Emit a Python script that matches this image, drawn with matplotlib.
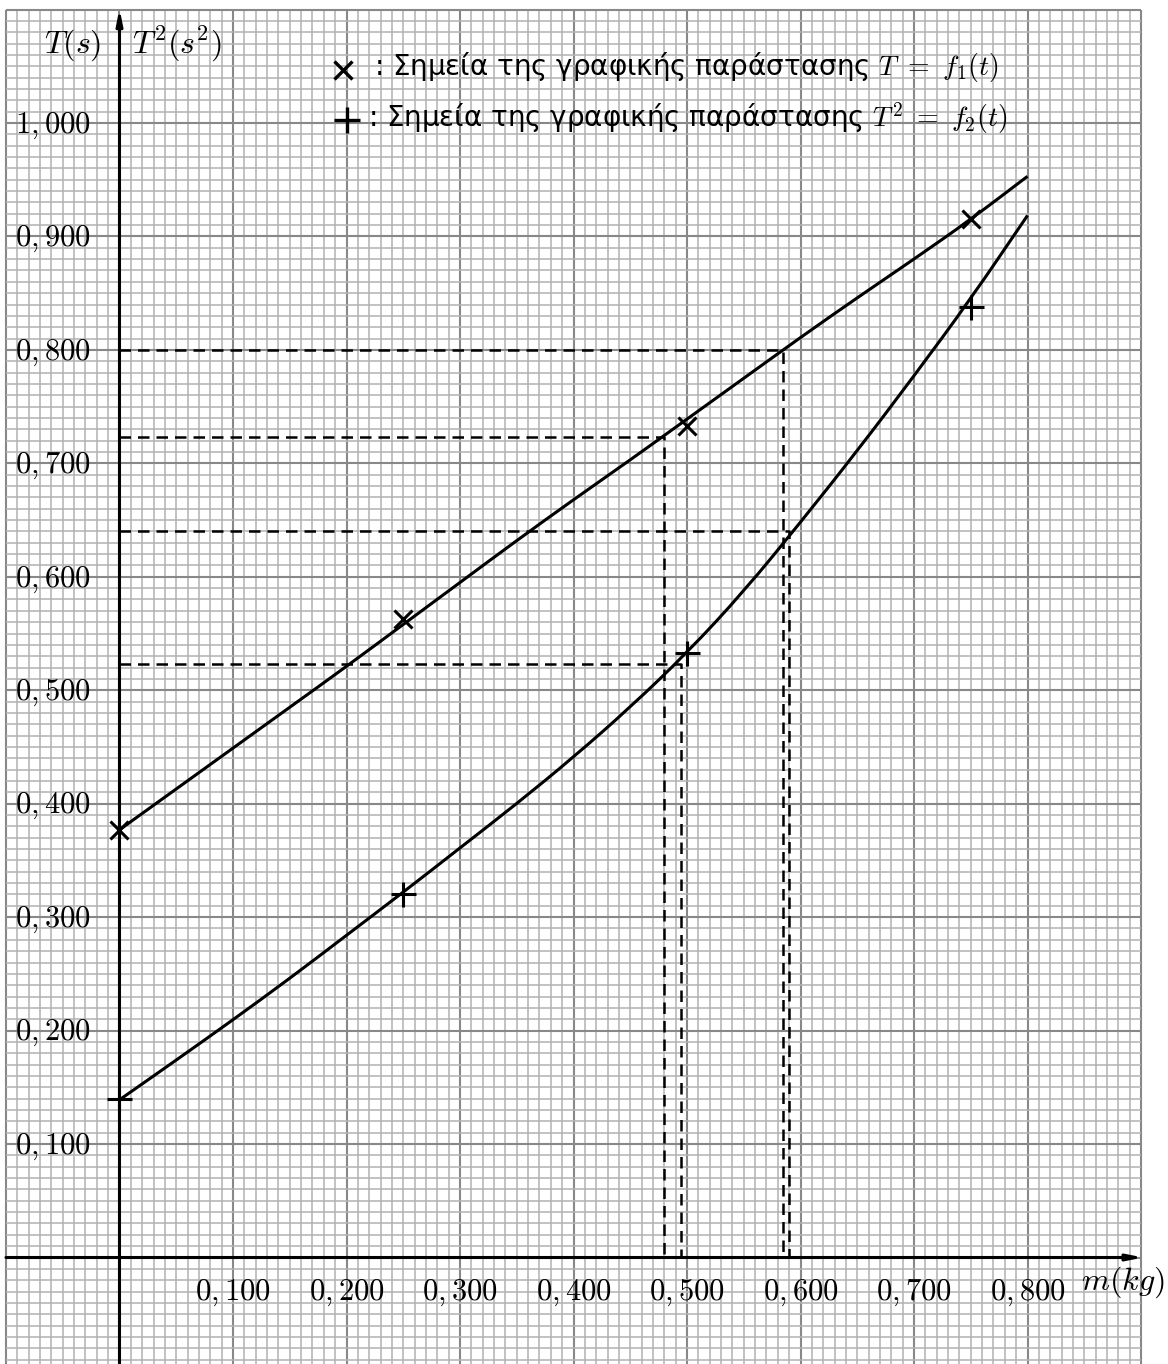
import numpy as np
import matplotlib
matplotlib.use("Agg")
import matplotlib.pyplot as plt
from matplotlib.path import Path
from matplotlib.patches import PathPatch

plt.rcParams['font.family'] = ['DejaVu Sans']
plt.rcParams['mathtext.fontset'] = 'cm'

# ---------------- data ----------------
m_pts = [0.0, 0.25, 0.50, 0.75]
T_pts = [0.377, 0.563, 0.733, 0.915]          # x markers: T = f1(m)
T2_pts = [0.140, 0.320, 0.533, 0.838]         # + markers: T^2 = f2(m)

m_curve = [0.00, 0.05, 0.10, 0.15, 0.20, 0.25, 0.30, 0.35, 0.40,
           0.45, 0.50, 0.55, 0.60, 0.65, 0.70, 0.75, 0.80]
T_curve = [0.377, 0.413, 0.449, 0.485, 0.521, 0.558, 0.595, 0.632, 0.668,
           0.703, 0.739, 0.775, 0.811, 0.846, 0.880, 0.915, 0.953]
T2_curve = [0.139, 0.174, 0.2095, 0.246, 0.284, 0.322, 0.361, 0.400, 0.441,
            0.485, 0.533, 0.587, 0.648, 0.711, 0.777, 0.845, 0.9185]

guide_m = [0.585, 0.480, 0.590, 0.495]
guide_v = [0.800, 0.723, 0.640, 0.523]

xtick_vals = [0.1, 0.2, 0.3, 0.4, 0.5, 0.6, 0.7, 0.8]
xtick_labels = ['0,100', '0,200', '0,300', '0,400', '0,500', '0,600', '0,700', '0,800']
ytick_vals = [0.1, 0.2, 0.3, 0.4, 0.5, 0.6, 0.7, 0.8, 0.9, 1.0]
ytick_labels = ['0,100', '0,200', '0,300', '0,400', '0,500', '0,600', '0,700',
                '0,800', '0,900', '1,000']

legend_1 = r': Σημεία της γραφικής παράστασης $T\ =\ f_1(t)$'
legend_2 = r': Σημεία της γραφικής παράστασης $T^2\ =\ f_2(t)$'

# ---------------- figure ----------------
W, H = 1168, 1364
fig = plt.figure(figsize=(W / 100, H / 100), dpi=100)
ax = fig.add_axes([0, 0, 1, 1])
sx, sy = 1135.0, 1134.5
x0, y0 = 119.5, 1257.5
ax.set_xlim(-x0 / sx, (W - x0) / sx)
ax.set_ylim(-(H - y0) / sy, y0 / sy)
ax.axis('off')

# graph paper
gx0, gx1 = -0.1, 0.9
gy0, gy1 = -0.095, 1.1
minor_c, major_c = '#b2b2b2', '#888888'
for i in range(-10, 91):
    v = i / 100
    major = (i % 10 == 0)
    ax.plot([v, v], [gy0, gy1], color=major_c if major else minor_c,
            lw=1.5 if major else 1.1, zorder=1, solid_capstyle='butt')
for j in range(-9, 111):
    v = j / 100
    major = (j % 10 == 0)
    ax.plot([gx0, gx1], [v, v], color=major_c if major else minor_c,
            lw=1.5 if major else 1.1, zorder=1, solid_capstyle='butt')

# axes with arrows
ax.annotate('', xy=(0.902, 0), xytext=(gx0, 0),
            arrowprops=dict(arrowstyle='-|>,head_length=0.9,head_width=0.18',
                            lw=2.2, color='black', shrinkA=0, shrinkB=0), zorder=3)
ax.annotate('', xy=(0, 1.101), xytext=(0, -0.2),
            arrowprops=dict(arrowstyle='-|>,head_length=0.9,head_width=0.18',
                            lw=2.2, color='black', shrinkA=0, shrinkB=0), zorder=3)

# guide lines
for gm, gv in zip(guide_m, guide_v):
    ax.plot([0, gm, gm], [gv, gv, 0], color='black', lw=1.8,
            dashes=(4.6, 2.8), zorder=4)


# curves: the read samples are used as vertices of a smooth (quadratic Bezier) path
def smooth_path(xs, ys):
    pts = list(zip(xs, ys))
    verts = [pts[0]]
    codes = [Path.MOVETO]
    mid = ((pts[0][0] + pts[1][0]) / 2, (pts[0][1] + pts[1][1]) / 2)
    verts.append(mid)
    codes.append(Path.LINETO)
    for k in range(1, len(pts) - 1):
        nxt = ((pts[k][0] + pts[k + 1][0]) / 2, (pts[k][1] + pts[k + 1][1]) / 2)
        verts += [pts[k], nxt]
        codes += [Path.CURVE3, Path.CURVE3]
    verts.append(pts[-1])
    codes.append(Path.LINETO)
    return Path(verts, codes)


for ys in (T_curve, T2_curve):
    ax.add_patch(PathPatch(smooth_path(m_curve, ys), facecolor='none',
                           edgecolor='black', lw=2.2, zorder=5))

# points
ax.plot(m_pts, T_pts, linestyle='none', marker='x', ms=13, mew=2.2,
        color='black', zorder=6)
ax.plot(m_pts, T2_pts, linestyle='none', marker='+', ms=18, mew=2.2,
        color='black', zorder=6)

# tick labels
for v, lab in zip(xtick_vals, xtick_labels):
    ax.text(v, -0.0375, '$' + lab + '$', ha='center', va='baseline',
            fontsize=22, zorder=7)
for v, lab in zip(ytick_vals, ytick_labels):
    ax.text(-0.0921, v - 0.0084, '$' + lab + '$', ha='left', va='baseline',
            fontsize=22, zorder=7)

# axis labels
ax.text(-0.041, 1.0617, r'$T(s)$', ha='center', va='baseline', fontsize=23)
ax.text(0.0502, 1.0617, r'$T^2(s^2)$', ha='center', va='baseline', fontsize=23)
ax.text(0.8837, -0.0286, r'$m(kg)$', ha='center', va='baseline', fontsize=23)

# legend
ax.plot([0.1969], [1.0463], marker='x', ms=13, mew=2.4, color='black', zorder=7)
ax.plot([0.2002], [1.0026], marker='+', ms=19, mew=2.4, color='black', zorder=7)
ax.text(0.2242, 1.0423, legend_1, ha='left', va='baseline', fontsize=20, zorder=7)
ax.text(0.2189, 0.9967, legend_2, ha='left', va='baseline', fontsize=20, zorder=7)

fig.savefig('out.png', dpi=100, facecolor='white')
